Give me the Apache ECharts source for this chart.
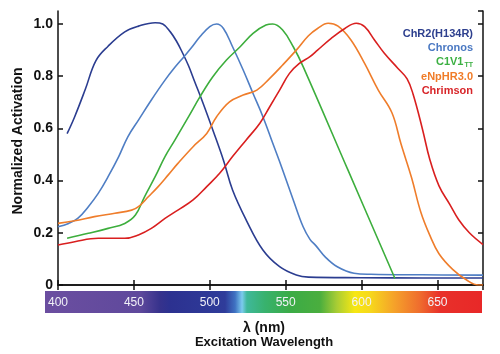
<!DOCTYPE html>
<html>
<head>
<meta charset="utf-8">
<script src="https://cdn.jsdelivr.net/npm/echarts@6.0.0/dist/echarts.min.js"></script>
<style>
  html, body { margin: 0; padding: 0; background: #fff; }
  #chart { width: 500px; height: 354px; }
</style>
</head>
<body>
<div id="chart"></div>
<script>
// wavelengths (nm) and normalized activation
const chr2Nm  = [406, 411, 418, 425, 433, 444, 453, 464, 469, 474, 478, 482, 486, 490, 496, 502, 509, 515, 524, 535, 546, 557, 565, 600, 640, 680]
const chr2Val = [0.58, 0.645, 0.75, 0.86, 0.915, 0.97, 0.992, 1.005, 1.0, 0.97, 0.935, 0.89, 0.84, 0.78, 0.69, 0.594, 0.478, 0.364, 0.249, 0.134, 0.07, 0.038, 0.03, 0.028, 0.027, 0.027]

const chronosNm  = [400, 407, 413, 420, 426.5, 433, 440, 446, 453, 461.5, 470.5, 477, 483, 488, 493.5, 500, 504.5, 509, 515, 522, 528.5, 535, 541.5, 548, 555, 561.5, 566, 570, 576, 584, 595, 606, 640, 680]
const chronosVal = [0.223, 0.236, 0.255, 0.30, 0.351, 0.415, 0.492, 0.568, 0.632, 0.709, 0.785, 0.834, 0.875, 0.91, 0.951, 0.99, 1.0, 0.983, 0.913, 0.824, 0.734, 0.645, 0.543, 0.441, 0.326, 0.223, 0.175, 0.15, 0.108, 0.07, 0.045, 0.041, 0.039, 0.038]

const c1v1Nm  = [406, 420, 433, 444, 451, 457, 464, 470.5, 477, 482, 487, 493.5, 502, 511, 520, 528.5, 537, 541.5, 548, 555, 561.5, 591, 622]
const c1v1Val = [0.179, 0.198, 0.217, 0.236, 0.268, 0.338, 0.415, 0.492, 0.555, 0.605, 0.655, 0.721, 0.798, 0.862, 0.913, 0.964, 0.996, 1.0, 0.977, 0.913, 0.837, 0.441, 0.025]

const enphrNm  = [400, 411, 424, 437.5, 448.5, 453, 459.5, 466, 472.5, 479, 489, 498, 504.5, 513, 522, 531, 539.5, 548, 557, 565, 571, 578, 584.5, 593, 602, 611, 620, 626, 633, 639, 645, 651, 660, 669, 677, 680]
const enphrVal = [0.236, 0.246, 0.262, 0.275, 0.287, 0.30, 0.338, 0.377, 0.421, 0.466, 0.53, 0.581, 0.645, 0.702, 0.728, 0.747, 0.792, 0.843, 0.90, 0.955, 0.983, 1.003, 0.992, 0.939, 0.849, 0.747, 0.66, 0.54, 0.41, 0.28, 0.19, 0.12, 0.06, 0.02, 0.0, 0.0]

const chrimsonNm  = [400, 411, 426.5, 435, 444, 453, 461.5, 470.5, 479, 489, 498, 506.5, 515, 524, 533, 539.5, 546, 552.5, 559, 566, 571, 580, 589, 596.5, 602, 608.5, 615, 624, 630, 634, 640, 645, 651, 658, 664, 671, 680]
const chrimsonVal = [0.153, 0.166, 0.179, 0.179, 0.179, 0.192, 0.217, 0.255, 0.287, 0.326, 0.377, 0.428, 0.492, 0.556, 0.62, 0.683, 0.747, 0.811, 0.849, 0.875, 0.90, 0.945, 0.983, 1.003, 0.99, 0.939, 0.888, 0.83, 0.79, 0.73, 0.60, 0.48, 0.38, 0.31, 0.25, 0.2, 0.155]

const xTicks = [400, 450, 500, 550, 600, 650]
const yTicks = [0, 0.2, 0.4, 0.6, 0.8, 1.0]

const seriesInfo = [
  { name: 'ChR2(H134R)', nm: chr2Nm, val: chr2Val, color: '#2b3d90', text: '#2d3f8e' },
  { name: 'Chronos', nm: chronosNm, val: chronosVal, color: '#4f7ec4', text: '#4a78c2' },
  { name: 'C1V1', nm: c1v1Nm, val: c1v1Val, color: '#3dae3d', text: '#3cb043' },
  { name: 'eNpHR3.0', nm: enphrNm, val: enphrVal, color: '#ef7d2b', text: '#f07c28' },
  { name: 'Chrimson', nm: chrimsonNm, val: chrimsonVal, color: '#d91f1f', text: '#d8262a' }
]

const FONT = 'Liberation Sans, Arial, sans-serif'

function pairs(xs, ys) {
  let out = []
  for (let i = 0; i < xs.length; i++) {
    out.push([xs[i], ys[i]])
  }
  return out
}

const chart = echarts.init(document.getElementById('chart'))

const frameAxis = {
  axisLine: { show: true, lineStyle: { color: '#111', width: 1.5 } },
  axisTick: { show: true, inside: true, length: 5, lineStyle: { color: '#111', width: 1.5 } },
  splitLine: { show: false }
}

const option = {
  animation: false,
  grid: { left: 58, right: 17, top: 11, bottom: 69, containLabel: false },
  legend: {
    orient: 'vertical',
    right: 22,
    top: 27,
    align: 'right',
    icon: 'none',
    itemWidth: 0,
    itemHeight: 14,
    itemGap: 1.7,
    padding: 0,
    selectedMode: false,
    textStyle: {
      fontFamily: FONT,
      fontSize: 11,
      fontWeight: 'bold',
      rich: {
        sub: { fontSize: 7, fontWeight: 'bold', color: '#3cb043', fontFamily: FONT, verticalAlign: 'bottom', padding: [5, 0, 0, 1] }
      }
    },
    formatter: function (name) {
      return name === 'C1V1' ? 'C1V1{sub|TT}' : name
    },
    data: seriesInfo.map(s => ({ name: s.name, textStyle: { color: s.text } }))
  },
  xAxis: [
    Object.assign({}, frameAxis, {
      type: 'value', position: 'bottom', min: 400, max: 680, interval: 50,
      axisLabel: {
        margin: 12, color: '#f2f2f8', fontSize: 12, fontFamily: FONT,
        showMaxLabel: false,
        formatter: v => (xTicks.indexOf(v) >= 0 ? String(v) : '')
      }
    }),
    Object.assign({}, frameAxis, {
      type: 'value', position: 'top', min: 400, max: 680, interval: 50,
      axisLabel: { show: false }
    })
  ],
  yAxis: [
    Object.assign({}, frameAxis, {
      type: 'value', position: 'left', min: 0, max: 1.05, interval: 0.2,
      axisLabel: {
        margin: 5, color: '#111', fontSize: 14, fontWeight: 'bold', fontFamily: FONT,
        showMaxLabel: false,
        formatter: v => {
          let t = yTicks.find(k => Math.abs(k - v) < 1e-6)
          if (t === undefined) return ''
          return t === 0 ? '0' : t.toFixed(1)
        }
      }
    }),
    Object.assign({}, frameAxis, {
      type: 'value', position: 'right', min: 0, max: 1.05, interval: 0.2,
      axisLabel: { show: false }
    })
  ],
  graphic: [
    {
      type: 'rect', z: -10, silent: true,
      shape: { x: 45, y: 291, width: 437, height: 22 },
      style: {
        fill: {
          type: 'linear', x: 0, y: 0, x2: 1, y2: 0,
          colorStops: [
            { offset: 0, color: '#6b4ea0' },
            { offset: 0.217, color: '#5f499c' },
            { offset: 0.263, color: '#36328c' },
            { offset: 0.286, color: '#2c3190' },
            { offset: 0.412, color: '#2f3c9a' },
            { offset: 0.435, color: '#3f72c2' },
            { offset: 0.451, color: '#7ccbee' },
            { offset: 0.462, color: '#3fb89a' },
            { offset: 0.503, color: '#38b26e' },
            { offset: 0.561, color: '#3bab46' },
            { offset: 0.629, color: '#4aae3e' },
            { offset: 0.668, color: '#a9cd34' },
            { offset: 0.709, color: '#f7e712' },
            { offset: 0.744, color: '#f6d81c' },
            { offset: 0.801, color: '#f5a02a' },
            { offset: 0.858, color: '#ef6c2e' },
            { offset: 0.904, color: '#e8302a' },
            { offset: 1, color: '#e82828' }
          ]
        }
      }
    },
    {
      type: 'text', x: 264, y: 328,
      style: { text: 'λ (nm)', font: 'bold 14px ' + FONT, fill: '#111', align: 'center', verticalAlign: 'middle' }
    },
    {
      type: 'text', x: 264, y: 342,
      style: { text: 'Excitation Wavelength', font: 'bold 13px ' + FONT, fill: '#111', align: 'center', verticalAlign: 'middle' }
    },
    {
      type: 'text', x: 18, y: 141, rotation: Math.PI / 2,
      style: { text: 'Normalized Activation', font: 'bold 14px ' + FONT, fill: '#111', align: 'center', verticalAlign: 'middle' }
    }
  ],
  series: seriesInfo.map(s => ({
    name: s.name,
    type: 'line',
    xAxisIndex: 0,
    yAxisIndex: 0,
    data: pairs(s.nm, s.val),
    smooth: 0.4,
    symbol: 'none',
    lineStyle: { color: s.color, width: 1.6 },
    itemStyle: { color: s.color }
  }))
}

chart.setOption(option)
</script>
</body>
</html>
